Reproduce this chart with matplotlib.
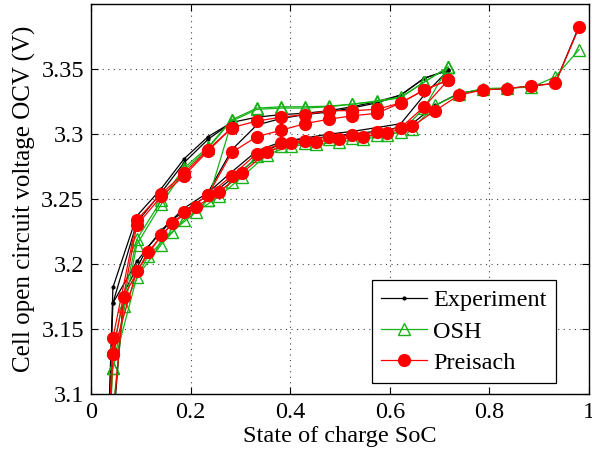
import matplotlib
matplotlib.use("Agg")
import matplotlib.pyplot as plt
from matplotlib.ticker import FuncFormatter

# ---------------- data ----------------
# SoC grids (two interleaved sampling grids)
soc_a = [0.044, 0.092, 0.141, 0.187, 0.235, 0.283, 0.333, 0.382, 0.430, 0.478,
         0.524, 0.574, 0.622, 0.669, 0.717]
soc_b = [0.066, 0.114, 0.163, 0.211, 0.257, 0.303, 0.353, 0.402, 0.452, 0.498,
         0.546, 0.594, 0.645, 0.691, 0.739, 0.787, 0.835, 0.884, 0.932, 0.980]
soc_low = 0.025          # last (off-scale) sample at the discharged end
soc_low_b = 0.018

# Experiment
exp_upper = [3.182, 3.237, 3.258, 3.281, 3.298, 3.309, 3.313, 3.315, 3.316, 3.318,
             3.321, 3.325, 3.330, 3.343, 3.349]
exp_upper2 = [3.170, 3.232, 3.255, 3.278, 3.296, 3.309]
exp_lower_a = [3.170, 3.202, 3.226, 3.243, 3.255, 3.271, 3.287, 3.294, 3.297, 3.300,
               3.302, 3.305, 3.308, 3.330, 3.349]
exp_minor = [3.255, 3.288, 3.307, 3.312, 3.315, 3.317, 3.320, 3.324, 3.330, 3.343, 3.349]
exp_lower_b = [3.178, 3.213, 3.234, 3.247, 3.258, 3.272, 3.288, 3.295, 3.297, 3.299,
               3.301, 3.303, 3.308, 3.322, 3.3315, 3.334, 3.335, 3.337, 3.339, 3.383]
exp_low = 2.95

# OSH model
osh_upper = [3.135, 3.219, 3.249, 3.274, 3.290, 3.311, 3.320, 3.321, 3.321, 3.3215,
             3.323, 3.3255, 3.3285, 3.340, 3.3515]
osh_upper2 = [3.120, 3.215, 3.246, 3.272, 3.289, 3.311]
osh_lower_a = [3.120, 3.190, 3.215, 3.234, 3.249, 3.263, 3.283, 3.291, 3.293, 3.296,
               3.297, 3.299, 3.3015, 3.320, 3.3515]
osh_minor = [3.249, 3.310, 3.319, 3.320, 3.320, 3.321, 3.323, 3.325, 3.328, 3.340, 3.3515]
osh_lower_b = [3.168, 3.206, 3.225, 3.240, 3.252, 3.267, 3.284, 3.291, 3.292, 3.294,
               3.296, 3.299, 3.304, 3.322, 3.331, 3.335, 3.3355, 3.336, 3.344, 3.365]
osh_low = 2.99

# Preisach model
pre_upper = [3.143, 3.234, 3.254, 3.270, 3.288, 3.305, 3.310, 3.313, 3.315, 3.318,
             3.318, 3.319, 3.324, 3.334, 3.3415]
pre_upper2 = [3.131, 3.230, 3.252, 3.268, 3.287, 3.305]
pre_lower_a = [3.131, 3.195, 3.222, 3.240, 3.253, 3.268, 3.285, 3.293, 3.295, 3.298,
               3.299, 3.3015, 3.305, 3.321, 3.3415]
pre_minor = [3.253, 3.286, 3.298, 3.303, 3.308, 3.3115, 3.314, 3.316, 3.324, 3.334, 3.3415]
pre_lower_b = [3.175, 3.209, 3.2315, 3.244, 3.2554, 3.270, 3.286, 3.293, 3.294, 3.296,
               3.298, 3.301, 3.306, 3.318, 3.330, 3.334, 3.335, 3.337, 3.339, 3.382]
pre_low = 2.97

labels = ["Experiment", "OSH", "Preisach"]

# ---------------- plotting ----------------
plt.rcParams['font.family'] = ['Liberation Serif', 'DejaVu Serif']

fig = plt.figure(figsize=(5.92, 4.55), dpi=100)
ax = fig.add_axes([0.1537, 0.134, 0.8413, 0.857])

styles = {
    "Experiment": dict(color='k', marker='.', markersize=4, lw=0.9),
    "OSH": dict(color='#17b217', marker='^', markersize=8, markerfacecolor='none',
                markeredgewidth=1.0, lw=0.9),
    "Preisach": dict(color='#ff0000', marker='o', markersize=9.5, markerfacecolor='#ff0000',
                     markeredgewidth=0, lw=0.9),
}

series = {
    "Experiment": (exp_upper, exp_upper2, exp_lower_a, exp_minor, exp_lower_b, exp_low),
    "OSH": (osh_upper, osh_upper2, osh_lower_a, osh_minor, osh_lower_b, osh_low),
    "Preisach": (pre_upper, pre_upper2, pre_lower_a, pre_minor, pre_lower_b, pre_low),
}

for name in labels:
    up, up2, la, mi, lb, lo = series[name]
    st = styles[name]
    ax.plot(soc_b[::-1] + [soc_low_b], lb[::-1] + [lo], **st)
    ax.plot([soc_low] + soc_a, [lo] + up, **st)
    ax.plot(soc_a[::-1] + [soc_low], la[::-1] + [lo], **st)
    ax.plot(soc_a[4:], mi, **st)
    ax.plot(soc_a[:6], up2, **st)
    ax.plot([], [], label=name, **st)

ax.set_xlim(0, 1)
ax.set_ylim(3.1, 3.4)
ax.set_xticks([0, 0.2, 0.4, 0.6, 0.8, 1.0])
ax.set_yticks([3.1, 3.15, 3.2, 3.25, 3.3, 3.35])
fmt = FuncFormatter(lambda v, p: ('%g' % round(v, 3)))
ax.xaxis.set_major_formatter(fmt)
ax.yaxis.set_major_formatter(fmt)
ax.tick_params(direction='in', top=True, right=True, labelsize=17.5, length=5, width=0.8)
ax.tick_params(axis='y', pad=5)
ax.tick_params(axis='x', pad=6)
ax.grid(True, linestyle=(0, (1, 4)), color='#444444', linewidth=0.8)
for s in ax.spines.values():
    s.set_linewidth(1.0)

ax.set_xlabel('State of charge SoC', fontsize=17.5, labelpad=2)
ax.set_ylabel('Cell open circuit voltage OCV (V)', fontsize=18, labelpad=4)

leg = ax.legend(loc='upper left', bbox_to_anchor=(0.564, 0.292), fontsize=17.5,
                frameon=True, fancybox=False, edgecolor='k', framealpha=1,
                handlelength=1.9, borderpad=0.38, labelspacing=0.38, handletextpad=0.25,
                borderaxespad=0)
leg.get_frame().set_linewidth(0.9)

fig.savefig('out.png', dpi=100)
